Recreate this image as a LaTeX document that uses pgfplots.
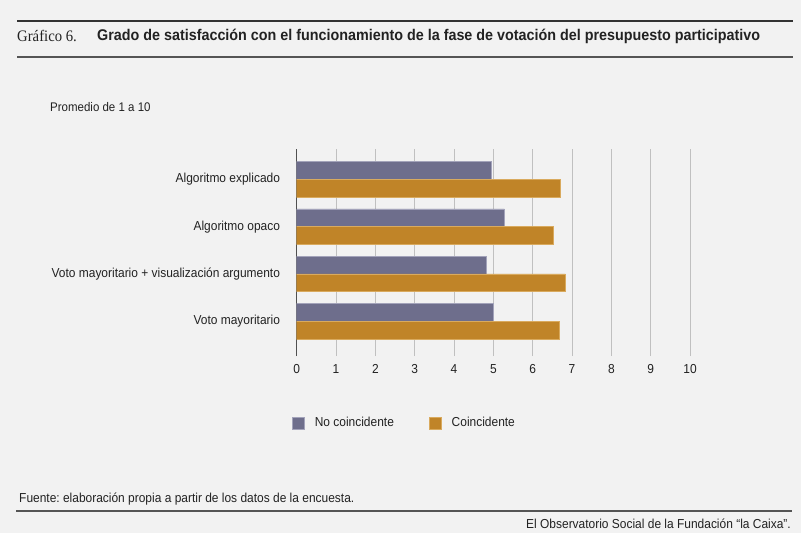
\documentclass[border=0pt]{standalone}
\usepackage{pgfplots}
\pgfplotsset{compat=1.18}
\usepackage{fontspec}
\setmainfont{Liberation Sans}[FakeStretch=0.92]
\newfontfamily\titlefont{Liberation Sans}[FakeStretch=0.925]
\newfontfamily\gserif{Liberation Serif}[FakeStretch=0.92]
\definecolor{bgc}{HTML}{F2F2F2}
\definecolor{nocol}{HTML}{6E6E8C}
\definecolor{nocoledge}{HTML}{A3A3BA}
\definecolor{sicol}{HTML}{C08428}
\definecolor{sicoledge}{HTML}{D9AA5E}
\definecolor{txt}{HTML}{222222}
\frenchspacing
\begin{document}
\begin{tikzpicture}
\fill[bgc] (0,0) rectangle (801bp,-533bp);
% header
\draw[color={rgb,255:red,51;green,51;blue,51}, line width=2bp] (17bp,-20.7bp) -- (793bp,-20.7bp);
\draw[color={rgb,255:red,85;green,85;blue,85}, line width=2bp] (17bp,-57.3bp) -- (793bp,-57.3bp);
\node[anchor=west, inner sep=0, text=txt, font=\gserif\fontsize{16bp}{18bp}\selectfont] at (17bp,-36bp) {Gráfico 6.};
\node[anchor=west, inner sep=0, text=txt, font=\titlefont\bfseries\fontsize{15.5bp}{18bp}\selectfont] at (97bp,-36bp) {Grado de satisfacción con el funcionamiento de la fase de votación del presupuesto participativo};
\node[anchor=west, inner sep=0, text=txt, font=\fontsize{12.5bp}{14bp}\selectfont] at (50bp,-106.7bp) {Promedio de 1 a 10};
% footer
\node[anchor=west, inner sep=0, text=txt, font=\fontsize{13bp}{15bp}\selectfont] at (19bp,-499bp) {Fuente: elaboración propia a partir de los datos de la encuesta.};
\draw[color={rgb,255:red,85;green,85;blue,85}, line width=2bp] (16bp,-511bp) -- (792bp,-511bp);
\node[anchor=east, inner sep=0, text=txt, font=\fontsize{13bp}{15bp}\selectfont] at (791bp,-524bp) {El Observatorio Social de la Fundación “la Caixa”.};
\begin{axis}[
  at={(296.7bp,-356bp)}, anchor=south west,
  scale only axis, width=393.3bp, height=206.7bp,
  xmin=0, xmax=10, ymin=-0.733, ymax=3.634,
  xbar, bar width=17.7bp,
  axis x line*=bottom, axis y line*=left,
  x axis line style={draw=none},
  y axis line style={draw={rgb,255:red,80;green,80;blue,80}, line width=1.5bp, -},
  major tick length=0pt,
  xtick={0,1,...,10},
  xmajorgrids,
  grid style={color={rgb,255:red,192;green,192;blue,192}, line width=1bp},
  ytick={0,1,2,3},
  yticklabels={Voto mayoritario, Voto mayoritario + visualización argumento, Algoritmo opaco, Algoritmo explicado},
  /pgf/number format/assume math mode=true,
  xticklabel style={anchor=center, inner sep=0pt, yshift=-13.3bp, text=txt, font=\fontsize{13bp}{15bp}\selectfont},
  yticklabel style={anchor=east, inner sep=0pt, xshift=-16.5bp, text=txt, font=\fontsize{13bp}{15bp}\selectfont},
  legend columns=2,
  legend style={draw=none, fill=none, at={(0.274,-0.324)}, anchor=center,
    font=\fontsize{13bp}{15bp}\selectfont, text=txt,
    /tikz/every odd column/.append style={column sep=8bp},
    /tikz/every even column/.append style={column sep=33bp}},
  legend image code/.code={\draw[#1, bar shift=0pt] (0bp,-6bp) rectangle (12bp,6bp);},
]
\addplot[fill=nocol, draw=nocoledge, line width=0.8bp, bar shift=8.85bp] coordinates {(4.99,0) (4.82,1) (5.28,2) (4.94,3)};
\addplot[fill=sicol, draw=sicoledge, line width=0.8bp, bar shift=-8.85bp] coordinates {(6.68,0) (6.83,1) (6.53,2) (6.71,3)};
\legend{No coincidente, Coincidente}
\end{axis}
\pgfresetboundingbox
\path (0,0) rectangle (801bp,-533bp);
\end{tikzpicture}
\end{document}
